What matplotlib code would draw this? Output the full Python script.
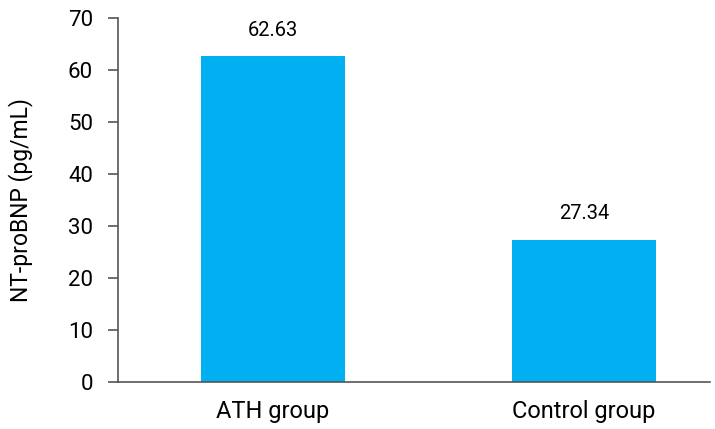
import matplotlib
matplotlib.use("Agg")
from matplotlib import pyplot as plt

groups = ["ATH group", "Control group"]
values = [62.63, 27.34]

plt.rcParams['font.family'] = ['Roboto', 'DejaVu Sans']

fig = plt.figure(figsize=(7.15, 4.29), dpi=100)
ax = fig.add_axes([118/715, 1-382/429, (710-118)/715, (382-18)/429])

x = list(range(len(groups)))
ax.bar(x, values, width=0.463, color='#00B0F0')
for xi, v in zip(x, values):
    ax.text(xi, v + 4.0, f"{v:.2f}", ha='center', va='baseline', fontsize=14.5)

ax.set_xlim(-0.498, 1.405)
ax.set_ylim(0, 70)
ax.set_yticks(range(0, 71, 10))
ax.set_xticks(x)
ax.set_xticklabels(groups, fontsize=17)
ax.tick_params(axis='y', labelsize=16, length=7, color='#555555', width=1.2, pad=11)
ax.tick_params(axis='x', length=0, pad=13)
ax.set_ylabel("NT-proBNP (pg/mL)", fontsize=16.5)
ax.yaxis.set_label_coords(-0.1436, 0.5)

for s in ['top', 'right']:
    ax.spines[s].set_visible(False)
for s in ['left', 'bottom']:
    ax.spines[s].set_color('#555555')
    ax.spines[s].set_linewidth(1.2)

plt.savefig("out.png", dpi=100)
